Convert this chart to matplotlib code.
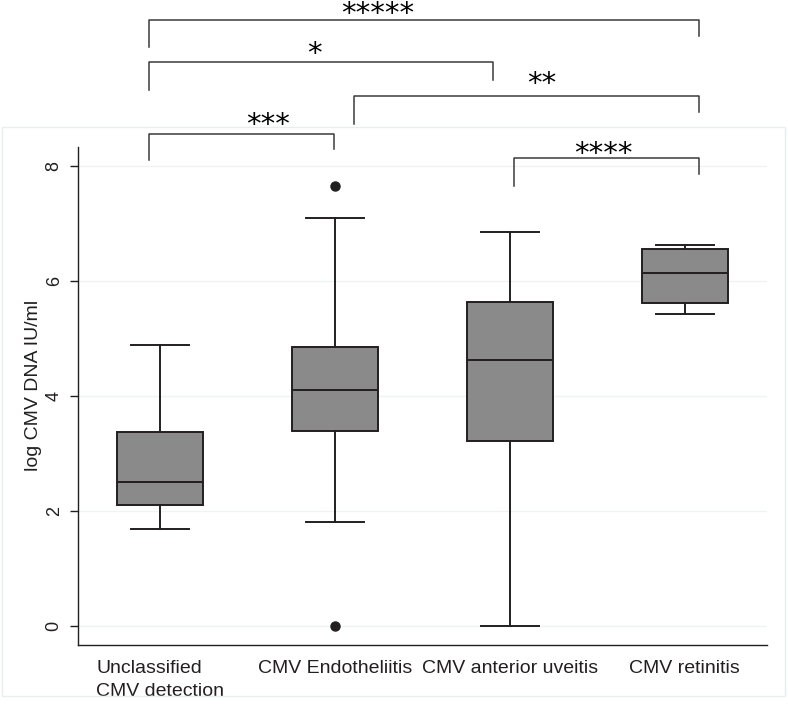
import matplotlib
matplotlib.use("Agg")
import matplotlib.pyplot as plt
from matplotlib.patches import Rectangle

plt.rcParams['font.family'] = ['Liberation Sans', 'DejaVu Sans']

# ---------------------------------------------------------------
# data
# ---------------------------------------------------------------
groups = ['Unclassified\nCMV detection', 'CMV Endotheliitis',
          'CMV anterior uveitis', 'CMV retinitis']
medians = [2.50, 4.10, 4.62, 6.14]
q1 = [2.10, 3.39, 3.22, 5.62]
q3 = [3.37, 4.85, 5.63, 6.56]
whisker_lo = [1.69, 1.81, 0.00, 5.43]
whisker_hi = [4.89, 7.10, 6.85, 6.63]
outliers = [[], [7.65, 0.00], [], []]

# significance comparisons
sig_labels = ['*****', '*', '**', '***', '****']

# ---------------------------------------------------------------
# bracket layout (data coords, drawn outside the axes)
# ---------------------------------------------------------------
brk_x1 = [0.937, 0.937, 2.109, 0.937, 3.023]
brk_x2 = [4.080, 2.903, 4.080, 1.994, 4.080]
brk_top = [10.54, 9.81, 9.22, 8.56, 8.14]
brk_left_end = [10.07, 9.32, 8.73, 8.10, 7.65]
brk_right_end = [10.26, 9.50, 8.94, 8.30, 7.86]
star_x = [2.246, 1.880, 3.180, 1.617, 3.537]
star_y = [10.51, 9.81, 9.29, 8.58, 8.07]

dark = '#231f20'
box_grey = '#898a89'

fig = plt.figure(figsize=(7.88, 7.04), dpi=100)
ax = fig.add_axes([0.099, 0.0838, 0.874, 0.7074])

# faint outer plot-region frame
fig.patches.append(Rectangle((0.0025, 0.0114), 0.9935, 0.8082,
                             transform=fig.transFigure, fill=False,
                             edgecolor='#e6eeee', linewidth=1.0))

positions = [1, 2, 3, 4]
stats = []
for g, m, a, b, lo, hi, fl in zip(groups, medians, q1, q3,
                                   whisker_lo, whisker_hi, outliers):
    stats.append(dict(label=g, med=m, q1=a, q3=b,
                      whislo=lo, whishi=hi, fliers=fl))

lw = 1.4
ax.bxp(stats, positions=positions, widths=0.49, capwidths=0.33,
       patch_artist=True,
       boxprops=dict(facecolor=box_grey, edgecolor=dark, linewidth=lw),
       medianprops=dict(color=dark, linewidth=lw),
       whiskerprops=dict(color=dark, linewidth=lw),
       capprops=dict(color=dark, linewidth=lw),
       flierprops=dict(marker='o', markerfacecolor=dark,
                       markeredgecolor=dark, markersize=6.5))

ax.set_xlim(0.531, 4.469)
ax.set_ylim(-0.33, 8.33)

# axes styling
for side in ['top', 'right']:
    ax.spines[side].set_visible(False)
for side in ['left', 'bottom']:
    ax.spines[side].set_color(dark)
    ax.spines[side].set_linewidth(1.0)

ax.set_yticks([0, 2, 4, 6, 8])
ax.yaxis.grid(True, color='#eef3f3', linewidth=1.0)
ax.set_axisbelow(True)
ax.tick_params(axis='y', length=6, width=1.0, color=dark, pad=5,
               labelsize=13, labelcolor=dark)
for t in ax.get_yticklabels():
    t.set_rotation(90)
    t.set_va('center')

ax.set_xticks(positions)
ax.set_xticklabels(groups, fontsize=14, color=dark)
ax.tick_params(axis='x', length=0, pad=11)
for t in ax.get_xticklabels():
    t.set_multialignment('left')
    t.set_linespacing(1.45)

ax.set_ylabel('log CMV DNA IU/ml', fontsize=14, color=dark)
ax.yaxis.set_label_coords(-0.052, 0.522)

# significance brackets
for x1, x2, top, le, re, lab, sx, sy in zip(brk_x1, brk_x2, brk_top,
                                            brk_left_end, brk_right_end,
                                            sig_labels, star_x, star_y):
    ax.plot([x1, x1, x2, x2], [le, top, top, re], color='#3a3a3a',
            linewidth=1.1, clip_on=False)
    ax.text(sx, sy, lab, ha='center', va='baseline', fontsize=21,
            family='DejaVu Sans', color='black', clip_on=False)

fig.savefig('out.png', dpi=100)
